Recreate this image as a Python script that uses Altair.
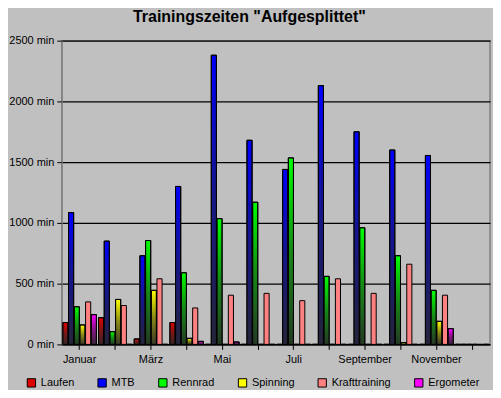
import altair as alt
import pandas as pd

months = ["Januar", "Februar", "März", "April", "Mai", "Juni", "Juli",
          "August", "September", "Oktober", "November", "Dezember"]
series = ["Laufen", "MTB", "Rennrad", "Spinning", "Krafttraining", "Ergometer"]
colors = ["#e00000", "#0000ff", "#00ff00", "#ffff00", "#ff8080", "#ff00ff"]

laufen = [180, 220, 45, 180, 0, 0, 0, 0, 0, 0, 0, 0]
mtb = [1085, 850, 730, 1300, 2380, 1680, 1440, 2130, 1750, 1600, 1555, 0]
rennrad = [310, 105, 855, 590, 1035, 1170, 1535, 560, 960, 730, 445, 0]
spinning = [160, 370, 445, 50, 0, 0, 0, 0, 0, 15, 190, 0]
kraft = [350, 320, 540, 300, 405, 420, 360, 540, 420, 660, 405, 0]
ergometer = [245, 0, 0, 25, 20, 0, 0, 0, 0, 0, 130, 0]

values = [laufen, mtb, rennrad, spinning, kraft, ergometer]
rows = []
for s, vals in zip(series, values):
    for m, v in zip(months, vals):
        rows.append({"Monat": m, "Serie": s, "Minuten": v})
df = pd.DataFrame(rows)

shown = ["Januar", "März", "Mai", "Juli", "September", "November"]
label_expr = "indexof(" + str(shown) + ", datum.value) >= 0 ? datum.value : ''"

x = alt.X("Monat:N", sort=months, title=None,
          scale=alt.Scale(paddingInner=0.06, paddingOuter=0.03),
          axis=alt.Axis(labelExpr=label_expr, labelAngle=0, labelFontSize=11,
                        labelColor="black", tickColor="black", domainColor="black",
                        labelPadding=4))
xo = alt.XOffset("Serie:N", sort=series, scale=alt.Scale(paddingInner=0.1))
y = alt.Y("Minuten:Q", title=None,
          scale=alt.Scale(domain=[0, 2500], nice=False),
          axis=alt.Axis(values=[0, 500, 1000, 1500, 2000, 2500],
                        labelExpr="datum.value + ' min'", labelFontSize=11,
                        labelColor="black", gridColor="black", gridWidth=1.2,
                        tickColor="black", domainColor="#808080", labelPadding=3))

base = alt.Chart(df).encode(x=x, xOffset=xo, y=y)

bars = base.mark_bar(stroke="black", strokeWidth=1).encode(
    color=alt.Color("Serie:N", sort=series,
                    scale=alt.Scale(domain=series, range=colors),
                    legend=alt.Legend(title=None, orient="none", direction="horizontal",
                                      legendX=-36, legendY=338,
                                      symbolType="square", symbolSize=70,
                                      symbolStrokeColor="black", symbolStrokeWidth=1,
                                      labelFontSize=11, labelColor="black",
                                      columnPadding=21))
)

grad = alt.LinearGradient(
    gradient="linear",
    stops=[alt.GradientStop(color="rgba(40,40,40,0)", offset=0),
           alt.GradientStop(color="rgba(40,40,40,0.55)", offset=0.5),
           alt.GradientStop(color="rgba(40,40,40,0.92)", offset=1)],
    x1=0, x2=0, y1=0, y2=1)

shade = base.transform_filter(alt.datum.Serie != "Krafttraining").mark_bar(
    fill=grad, stroke="black", strokeWidth=1)

chart = alt.layer(bars, shade).properties(
    width=430, height=305,
    padding={"left": 0, "right": 3, "top": 0, "bottom": 0},
    title=alt.TitleParams('Trainingszeiten "Aufgesplittet"', fontSize=16,
                          fontWeight="bold", color="black", offset=10,
                          frame="bounds", anchor="middle"),
    background="#c0c0c0",
).configure(font="Liberation Sans").configure_view(stroke="#808080", strokeWidth=1.5)

chart.save("out.html", embed_options={"renderer": "svg", "actions": False})
